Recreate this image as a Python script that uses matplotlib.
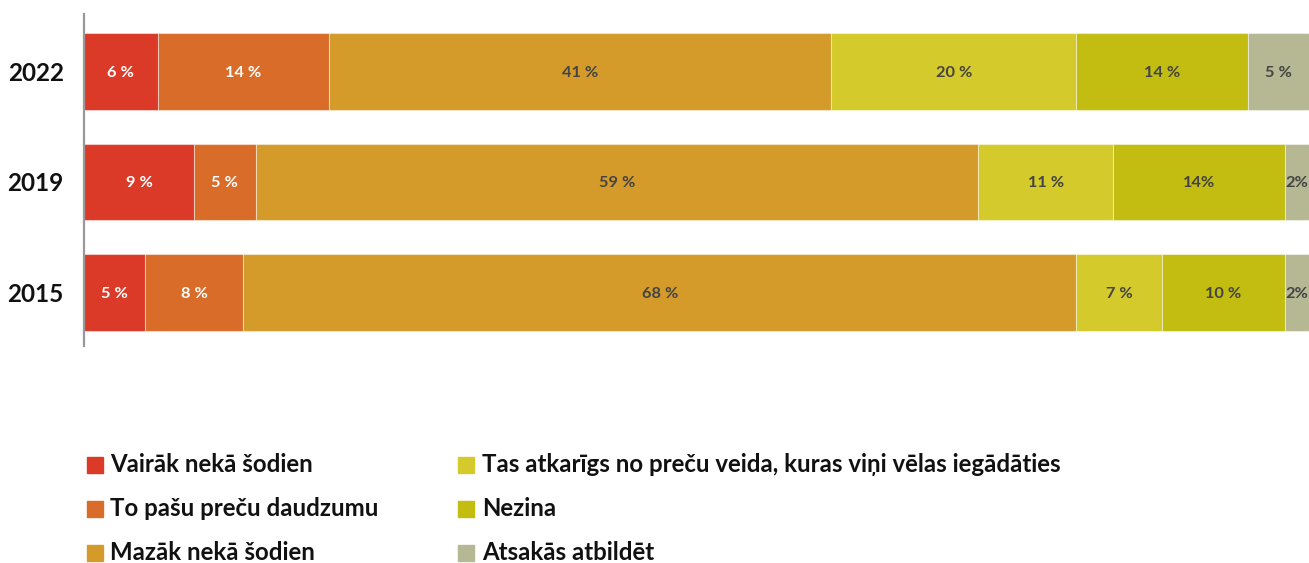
import matplotlib
matplotlib.use("Agg")
import matplotlib.pyplot as plt
from matplotlib.patches import Rectangle

plt.rcParams['font.family'] = ['Lato', 'DejaVu Sans']

years = ["2022", "2019", "2015"]
categories = [
    "Vairāk nekā šodien",
    "To pašu preču daudzumu",
    "Mazāk nekā šodien",
    "Tas atkarīgs no preču veida, kuras viņi vēlas iegādāties",
    "Nezina",
    "Atsakās atbildēt",
]
values = [
    [6, 9, 5],
    [14, 5, 8],
    [41, 59, 68],
    [20, 11, 7],
    [14, 14, 10],
    [5, 2, 2],
]
labels = [
    ["6 %", "9 %", "5 %"],
    ["14 %", "5 %", "8 %"],
    ["41 %", "59 %", "68 %"],
    ["20 %", "11 %", "7 %"],
    ["14 %", "14%", "10 %"],
    ["5 %", "2%", "2%"],
]
colors = ["#DB3A28", "#D96C29", "#D49B2A", "#D4CA2B", "#C2BD10", "#B5B892"]
label_colors = ["white", "white", "#444444", "#444444", "#444444", "#444444"]

W, H = 1309, 563
fig = plt.figure(figsize=(W / 100, H / 100), dpi=100)
ax = fig.add_axes([84 / W, 1 - 346 / H, 1 - 84 / W, 332 / H])

ypos = list(range(len(years)))
left = [0] * len(years)
for vals, labs, col, lcol in zip(values, labels, colors, label_colors):
    ax.barh(ypos, vals, left=left, height=0.695, color=col,
            edgecolor=(1, 1, 1, 0.45), linewidth=0.8)
    for y, v, l, lab in zip(ypos, vals, left, labs):
        ax.text(l + v / 2, y, lab, ha="center", va="center_baseline", color=lcol,
                fontsize=11.8, fontweight="bold", clip_on=False)
    left = [a + b for a, b in zip(left, vals)]

ax.set_xlim(0, 100)
ax.set_ylim(2.484, -0.52)
ax.set_yticks(ypos)
ax.set_yticklabels(years, fontsize=17.5, fontweight="bold", color="#111111")
ax.tick_params(axis="y", length=0, pad=14.5)
ax.set_xticks([])
for s in ["top", "right", "bottom"]:
    ax.spines[s].set_visible(False)
ax.spines["left"].set_color("#999999")
ax.spines["left"].set_linewidth(1.6)

# legend in two columns below the bars
col_x = [(87, 110), (458, 482)]
row_y = [465, 509, 553]
sq = 16
for i, (cat, col) in enumerate(zip(categories, colors)):
    c, r = divmod(i, 3)
    mx, tx = col_x[c]
    yc = row_y[r]
    fig.patches.append(Rectangle((mx / W, 1 - (yc + sq / 2) / H), sq / W, sq / H,
                                 transform=fig.transFigure, color=col))
    fig.text(tx / W, 1 - yc / H, cat, ha="left", va="center",
             fontsize=17.3, fontweight="bold", color="#111111")

fig.savefig("out.png", dpi=100)
